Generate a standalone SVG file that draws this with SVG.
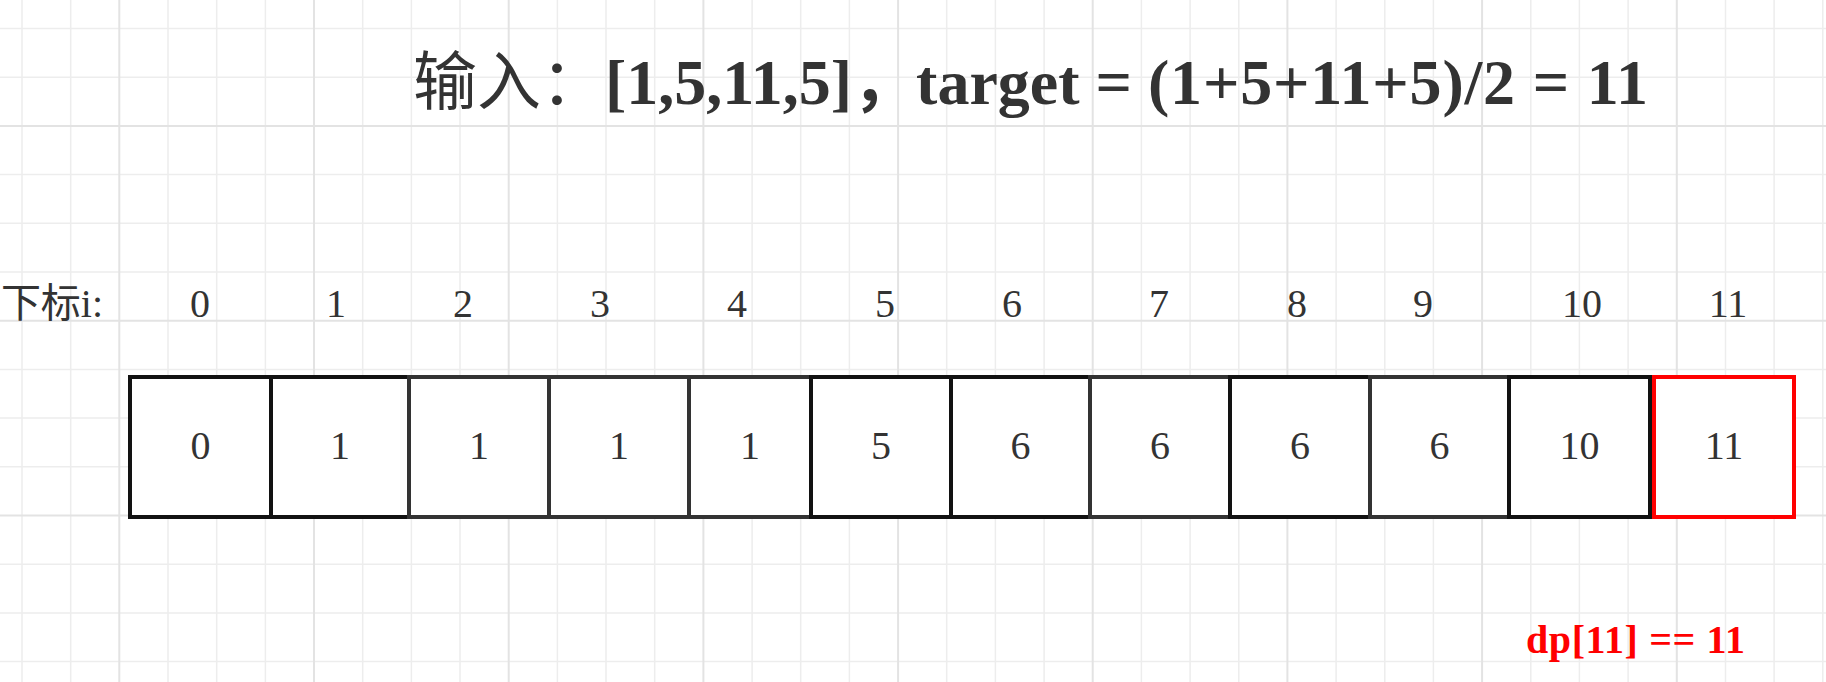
<svg xmlns="http://www.w3.org/2000/svg" width="1826" height="682" viewBox="0 0 1826 682">
<style>
.minor{stroke:#ededed;stroke-width:1.5;fill:none}
.major{stroke:#e3e3e3;stroke-width:2;fill:none}
.cell{fill:#fff;stroke-width:4}
.blk{stroke:#121212}
.gry{stroke:#333}
.red{stroke:#ff0000}
.val{font-family:"Liberation Serif","Noto Sans CJK SC",serif;font-size:40px;fill:#333;text-anchor:middle}
.idx{font-family:"Liberation Serif","Noto Sans CJK SC",serif;font-size:40px;fill:#333;text-anchor:middle}
.title{font-family:"Liberation Serif","Noto Sans CJK SC",serif;font-size:64px;font-weight:bold;fill:#333}
.note{font-family:"Liberation Serif",serif;font-size:40px;font-weight:bold;fill:#ff0000}
</style>
<rect width="1826" height="682" fill="#fff"/>
<g id="grid">
<path class="minor" d="M22 0V682M70.7 0V682M168 0V682M216.7 0V682M265.4 0V682M362.7 0V682M411.4 0V682M460 0V682M557.4 0V682M606 0V682M654.7 0V682M752.1 0V682M800.7 0V682M849.4 0V682M946.7 0V682M995.4 0V682M1044.1 0V682M1141.4 0V682M1190.1 0V682M1238.8 0V682M1336.1 0V682M1384.8 0V682M1433.4 0V682M1530.8 0V682M1579.4 0V682M1628.1 0V682M1725.5 0V682M1774.1 0V682M1822.8 0V682M0 28.5H1826M0 77.2H1826M0 174.6H1826M0 223.3H1826M0 272H1826M0 369.4H1826M0 418.1H1826M0 466.8H1826M0 564.2H1826M0 612.9H1826M0 661.6H1826"/>
<path class="major" d="M119.3 0V682M314 0V682M508.7 0V682M703.4 0V682M898.1 0V682M1092.7 0V682M1287.4 0V682M1482.1 0V682M1676.8 0V682M0 125.9H1826M0 320.7H1826M0 515.5H1826"/>
</g>
<g id="title">
<text class="title" x="413" y="104"><tspan font-weight="normal">输入：</tspan>[1,5,11,5]，target = <tspan letter-spacing="0.8">(1+5+11+5)/2 = 11</tspan></text>
</g>
<g id="index-row">
<text class="idx" x="52" y="317">下标i:</text>
<text class="idx" x="200" y="317">0</text>
<text class="idx" x="336" y="317">1</text>
<text class="idx" x="463" y="317">2</text>
<text class="idx" x="600" y="317">3</text>
<text class="idx" x="737" y="317">4</text>
<text class="idx" x="885" y="317">5</text>
<text class="idx" x="1012" y="317">6</text>
<text class="idx" x="1159" y="317">7</text>
<text class="idx" x="1297" y="317">8</text>
<text class="idx" x="1423" y="317">9</text>
<text class="idx" x="1582" y="317">10</text>
<text class="idx" x="1728" y="317">11</text>
</g>
<g id="cell0"><rect class="cell blk" x="130" y="377" width="141" height="140"/><text class="val" x="200.5" y="459">0</text></g>
<g id="cell1"><rect class="cell blk" x="271" y="377" width="138" height="140"/><text class="val" x="340" y="459">1</text></g>
<g id="cell2"><rect class="cell gry" x="409" y="377" width="140" height="140"/><text class="val" x="479" y="459">1</text></g>
<g id="cell3"><rect class="cell gry" x="549" y="377" width="140" height="140"/><text class="val" x="619" y="459">1</text></g>
<g id="cell4"><rect class="cell gry" x="689" y="377" width="122" height="140"/><text class="val" x="750" y="459">1</text></g>
<g id="cell5"><rect class="cell blk" x="811" y="377" width="140" height="140"/><text class="val" x="881" y="459">5</text></g>
<g id="cell6"><rect class="cell blk" x="951" y="377" width="139" height="140"/><text class="val" x="1020.5" y="459">6</text></g>
<g id="cell7"><rect class="cell gry" x="1090" y="377" width="140" height="140"/><text class="val" x="1160" y="459">6</text></g>
<g id="cell8"><rect class="cell blk" x="1230" y="377" width="140" height="140"/><text class="val" x="1300" y="459">6</text></g>
<g id="cell9"><rect class="cell gry" x="1370" y="377" width="139" height="140"/><text class="val" x="1439.5" y="459">6</text></g>
<g id="cell10"><rect class="cell blk" x="1509" y="377" width="141" height="140"/><text class="val" x="1579.5" y="459">10</text></g>
<g id="cell11"><rect class="cell red" x="1654" y="377" width="140" height="140"/><text class="val" x="1724" y="459">11</text></g>
<g id="result"><text class="note" x="1526" y="653" letter-spacing="0.6">dp[11] == 11</text></g>
</svg>
